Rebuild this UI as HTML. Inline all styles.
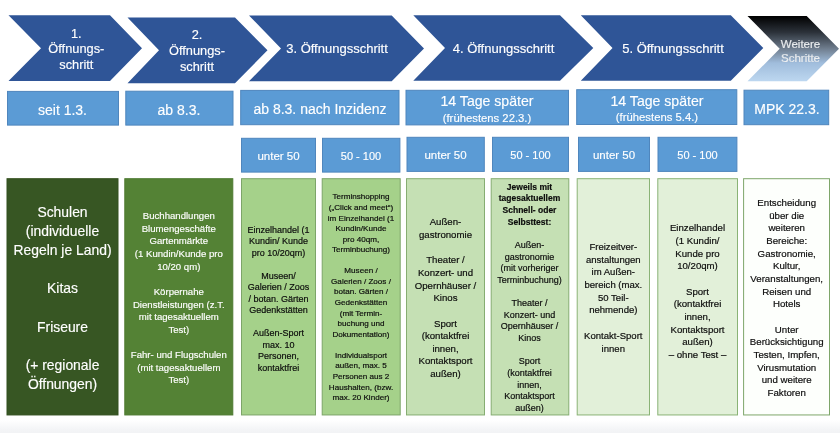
<!DOCTYPE html>
<html><head><meta charset="utf-8"><title>Öffnungsschritte</title>
<style>
html,body{margin:0;padding:0;}
body{width:840px;height:433px;position:relative;overflow:hidden;background:#fff;filter:blur(0.4px);font-family:"Liberation Sans",sans-serif;}
.b{position:absolute;box-sizing:border-box;}
.t{position:absolute;text-align:center;white-space:nowrap;}
.w{color:#fff;-webkit-text-stroke:0.15px #fff;}
.k{color:#0c0c0c;-webkit-text-stroke:0.18px #0c0c0c;}
#foot{position:absolute;left:0;top:420px;width:840px;height:13px;background:linear-gradient(#fff,#f4f5f7 70%,#f2f3f5);}
</style></head><body>

<div id="foot"></div>
<svg class="b" style="left:0;top:0" width="840" height="433" viewBox="0 0 840 433"><defs><linearGradient id="g6" x1="0" y1="0" x2="0" y2="1"><stop offset="0" stop-color="#000"/><stop offset="0.25" stop-color="#2c323a"/><stop offset="0.5" stop-color="#6f7d8e"/><stop offset="0.72" stop-color="#a0bddc"/><stop offset="1" stop-color="#bdd7f0"/></linearGradient></defs><polygon points="8.5,15.3 110,15.3 142,48.15 110,81.0 8.5,81.0 41,48.15" fill="#2f5597"/>
<polygon points="127.5,17.5 235,17.5 267.5,50.35 235,83.2 127.5,83.2 159,50.35" fill="#2f5597"/>
<polygon points="249,15.5 391.7,15.5 424,48.4 391.7,81.3 249,81.3 281,48.4" fill="#2f5597"/>
<polygon points="413.3,15.3 560,15.3 593.3,48.05 560,80.8 413.3,80.8 445,48.05" fill="#2f5597"/>
<polygon points="580.8,15.3 730.8,15.3 763.3,48.05 730.8,80.8 580.8,80.8 612.5,48.05" fill="#2f5597"/>
<polygon points="747.5,16 806.7,16 839,48.65 806.7,81.3 747.5,81.3 779.7,48.65" fill="url(#g6)"/>
<rect x="7.5" y="91.4" width="111" height="33.7" fill="#5b9bd5" stroke="#4f86bd" stroke-width="1"/>
<rect x="125.8" y="91.2" width="107.2" height="33.9" fill="#5b9bd5" stroke="#4f86bd" stroke-width="1"/>
<rect x="240.7" y="90.4" width="158.3" height="34.3" fill="#5b9bd5" stroke="#4f86bd" stroke-width="1"/>
<rect x="406.0" y="90.3" width="162.5" height="34.6" fill="#5b9bd5" stroke="#4f86bd" stroke-width="1"/>
<rect x="576.7" y="89.7" width="160.1" height="34.8" fill="#5b9bd5" stroke="#4f86bd" stroke-width="1"/>
<rect x="744.0" y="90.2" width="84.7" height="34.5" fill="#5b9bd5" stroke="#4f86bd" stroke-width="1"/>
<rect x="241.5" y="138.3" width="74" height="33.8" fill="#5b9bd5" stroke="#4f86bd" stroke-width="1"/>
<rect x="322.5" y="138.3" width="77.4" height="33.8" fill="#5b9bd5" stroke="#4f86bd" stroke-width="1"/>
<rect x="407.0" y="137.3" width="77.3" height="34.1" fill="#5b9bd5" stroke="#4f86bd" stroke-width="1"/>
<rect x="492.5" y="137.3" width="76" height="34.1" fill="#5b9bd5" stroke="#4f86bd" stroke-width="1"/>
<rect x="578.5" y="137.3" width="71" height="34.1" fill="#5b9bd5" stroke="#4f86bd" stroke-width="1"/>
<rect x="658.0" y="137.3" width="78.9" height="34.1" fill="#5b9bd5" stroke="#4f86bd" stroke-width="1"/>
<rect x="7.0" y="178.7" width="111.0" height="236.25" fill="#375623" stroke="#33501f" stroke-width="1"/>
<rect x="124.8" y="178.7" width="108.0" height="236.25" fill="#548235" stroke="#4e7a31" stroke-width="1"/>
<rect x="241.5" y="178.7" width="74" height="236.25" fill="#a5d18a" stroke="#7da569" stroke-width="1"/>
<rect x="322.2" y="178.7" width="78.0" height="236.25" fill="#a5d18a" stroke="#7da569" stroke-width="1"/>
<rect x="406.5" y="178.7" width="78" height="236.25" fill="#c5e0b4" stroke="#86ad72" stroke-width="1"/>
<rect x="491.2" y="178.7" width="77.6" height="236.25" fill="#c5e0b4" stroke="#86ad72" stroke-width="1"/>
<rect x="577.2" y="178.7" width="72.3" height="236.25" fill="#e2f0d9" stroke="#8ab376" stroke-width="1"/>
<rect x="657.8" y="178.7" width="79.7" height="236.25" fill="#e2f0d9" stroke="#8ab376" stroke-width="1"/>
<rect x="743.6" y="178.7" width="85.9" height="236.25" fill="#fdfffc" stroke="#7ea66a" stroke-width="1"/></svg>
<div class="t w" style="left:-73.7px;width:300px;top:25.75px;font-size:12.8px;line-height:15.7px;">1.<br>Öffnungs-<br>schritt</div>
<div class="t w" style="left:47px;width:300px;top:27.35px;font-size:12.8px;line-height:15.7px;">2.<br>Öffnungs-<br>schritt</div>
<div class="t w" style="left:187px;width:300px;top:41.4px;font-size:13px;line-height:15.2px;">3. Öffnungsschritt</div>
<div class="t w" style="left:353.5px;width:300px;top:41.2px;font-size:13px;line-height:15.2px;">4. Öffnungsschritt</div>
<div class="t w" style="left:523px;width:300px;top:40.95px;font-size:13px;line-height:15.2px;">5. Öffnungsschritt</div>
<div class="t w" style="left:650.5px;width:300px;top:37.35px;font-size:11.5px;line-height:14.1px;color:#e4e7ea;">Weitere<br>Schritte</div>
<div class="t w" style="left:-87.5px;width:300px;top:101.7px;font-size:14px;line-height:16px;">seit 1.3.</div>
<div class="t w" style="left:29px;width:300px;top:101.7px;font-size:14px;line-height:16px;">ab 8.3.</div>
<div class="t w" style="left:170px;width:300px;top:100.9px;font-size:14px;line-height:16px;">ab 8.3. nach Inzidenz</div>
<div class="t w" style="left:337px;width:300px;top:93.4px;font-size:14.1px;line-height:16px;">14 Tage später</div>
<div class="t w" style="left:337px;width:300px;top:111.6px;font-size:11.3px;line-height:12px;">(frühestens 22.3.)</div>
<div class="t w" style="left:507px;width:300px;top:92.6px;font-size:14.1px;line-height:16px;">14 Tage später</div>
<div class="t w" style="left:507px;width:300px;top:110.6px;font-size:11.3px;line-height:12px;">(frühestens 5.4.)</div>
<div class="t w" style="left:637px;width:300px;top:100.6px;font-size:14px;line-height:16px;">MPK 22.3.</div>
<div class="t w" style="left:128.5px;width:300px;top:149.8px;font-size:11.5px;line-height:12px;">unter 50</div>
<div class="t w" style="left:211px;width:300px;top:149.8px;font-size:11px;line-height:12px;">50 - 100</div>
<div class="t w" style="left:295.5px;width:300px;top:148.6px;font-size:11.5px;line-height:12px;">unter 50</div>
<div class="t w" style="left:380.5px;width:300px;top:148.6px;font-size:11px;line-height:12px;">50 - 100</div>
<div class="t w" style="left:464px;width:300px;top:148.6px;font-size:11.5px;line-height:12px;">unter 50</div>
<div class="t w" style="left:547.5px;width:300px;top:148.6px;font-size:11px;line-height:12px;">50 - 100</div>
<div class="t w" style="left:-87.5px;width:300px;top:202.95px;font-size:13.9px;line-height:19.1px;">Schulen<br>(individuelle<br>Regeln je Land)<br>&nbsp;<br>Kitas<br>&nbsp;<br>Friseure<br>&nbsp;<br>(+ regionale<br>Öffnungen)</div>
<div class="t w" style="left:28.8px;width:300px;top:210.19px;font-size:9.6px;line-height:12.63px;">Buchhandlungen<br>Blumengeschäfte<br>Gartenmärkte<br>(1 Kundin/Kunde pro<br>10/20 qm)<br>&nbsp;<br>Körpernahe<br>Dienstleistungen (z.T.<br>mit tagesaktuellem<br>Test)<br>&nbsp;<br>Fahr- und Flugschulen<br>(mit tagesaktuellem<br>Test)</div>
<div class="t k" style="left:128.5px;width:300px;top:224.65px;font-size:9.0px;line-height:11.5px;">Einzelhandel (1<br>Kundin/ Kunde<br>pro 10/20qm)<br>&nbsp;<br>Museen/<br>Galerien / Zoos<br>/ botan. Gärten<br>Gedenkstätten<br>&nbsp;<br>Außen-Sport<br>max. 10<br>Personen,<br>kontaktfrei</div>
<div class="t k" style="left:211px;width:300px;top:192.42px;font-size:8.1px;line-height:10.56px;">Terminshopping<br>(„Click and meet“)<br>im Einzelhandel (1<br>Kundin/Kunde<br>pro 40qm,<br>Terminbuchung)<br>&nbsp;<br>Museen /<br>Galerien / Zoos /<br>botan. Gärten /<br>Gedenkstätten<br>(mit Termin-<br>buchung und<br>Dokumentation)<br>&nbsp;<br>Individualsport<br>außen, max. 5<br>Personen aus 2<br>Haushalten, (bzw.<br>max. 20 Kinder)</div>
<div class="t k" style="left:295.5px;width:300px;top:216.28px;font-size:9.65px;line-height:12.65px;">Außen-<br>gastronomie<br>&nbsp;<br>Theater /<br>Konzert- und<br>Opernhäuser /<br>Kinos<br>&nbsp;<br>Sport<br>(kontaktfrei<br>innen,<br>Kontaktsport<br>außen)</div>
<div class="t k" style="left:379.5px;width:300px;top:181.57px;font-size:9.0px;line-height:11.66px;"><b style="font-size:8.5px">Jeweils mit</b><br><b style="font-size:8.5px">tagesaktuellem</b><br><b style="font-size:8.5px">Schnell- oder</b><br><b style="font-size:8.5px">Selbsttest:</b><br>&nbsp;<br>Außen-<br>gastronomie<br>(mit vorheriger<br>Terminbuchung)<br>&nbsp;<br>Theater /<br>Konzert- und<br>Opernhäuser /<br>Kinos<br>&nbsp;<br>Sport<br>(kontaktfrei<br>innen,<br>Kontaktsport<br>außen)</div>
<div class="t k" style="left:463.3px;width:300px;top:241.06px;font-size:9.55px;line-height:12.68px;">Freizeitver-<br>anstaltungen<br>im Außen-<br>bereich (max.<br>50 Teil-<br>nehmende)<br>&nbsp;<br>Kontakt-Sport<br>innen</div>
<div class="t k" style="left:547.5px;width:300px;top:222.48px;font-size:9.65px;line-height:12.65px;">Einzelhandel<br>(1 Kundin/<br>Kunde pro<br>10/20qm)<br>&nbsp;<br>Sport<br>(kontaktfrei<br>innen,<br>Kontaktsport<br>außen)<br>– ohne Test –</div>
<div class="t k" style="left:636.7px;width:300px;top:197.18px;font-size:9.7px;line-height:12.65px;">Entscheidung<br>über die<br>weiteren<br>Bereiche:<br>Gastronomie,<br>Kultur,<br>Veranstaltungen,<br>Reisen und<br>Hotels<br>&nbsp;<br>Unter<br>Berücksichtigung<br>Testen, Impfen,<br>Virusmutation<br>und weitere<br>Faktoren</div>
</body></html>
